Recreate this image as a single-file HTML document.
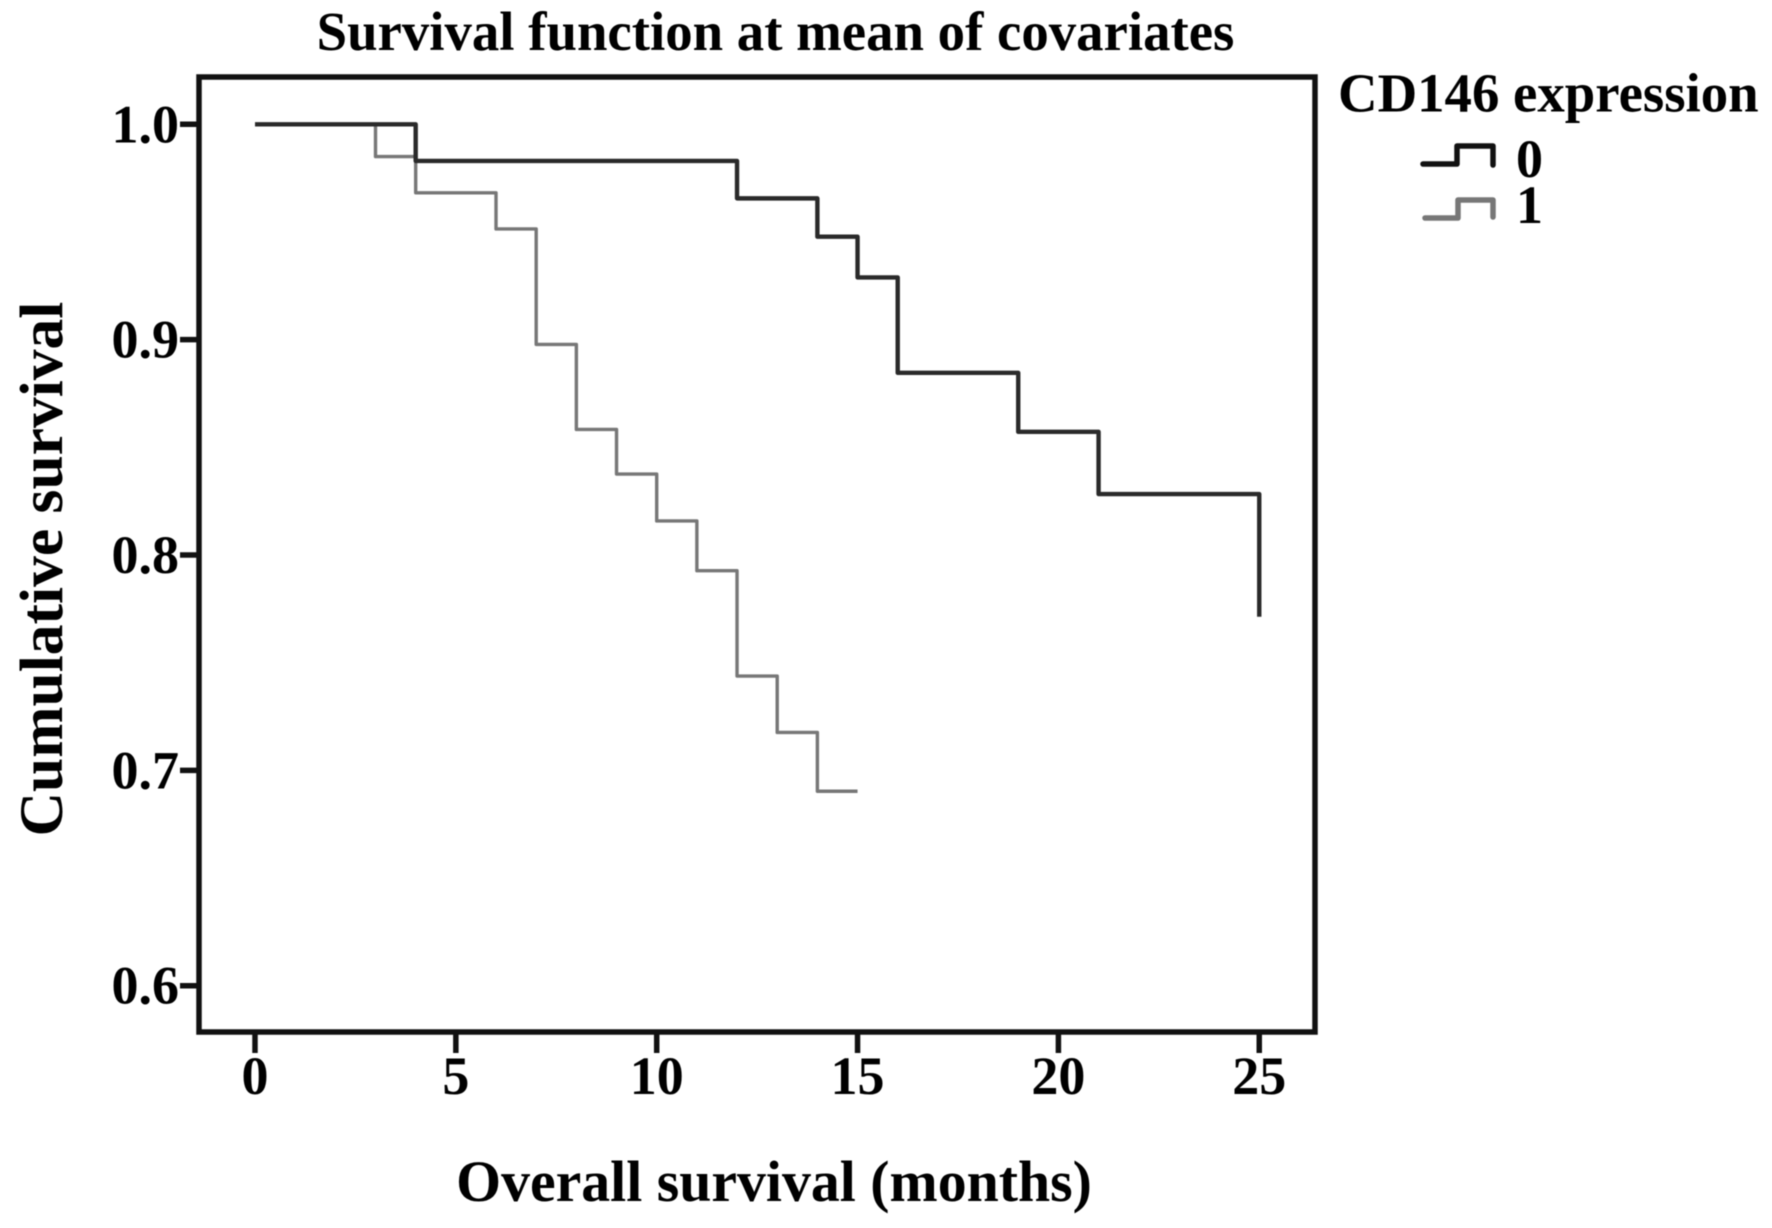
<!DOCTYPE html>
<html lang="en">
<head>
<meta charset="utf-8">
<title>Survival function at mean of covariates</title>
<style>
html,body{margin:0;padding:0;background:#fff;}
svg{display:block;filter:blur(0.5px);}
text{font-family:"Liberation Serif",serif;font-weight:bold;fill:#000;}
</style>
</head>
<body>
<svg id="chart" xmlns="http://www.w3.org/2000/svg" width="1772" height="1228" viewBox="0 0 1772 1228">
  <rect x="0" y="0" width="1772" height="1228" fill="#fff"/>
  <text x="775.5" y="50" font-size="54.8" text-anchor="middle">Survival function at mean of covariates</text>
  <rect x="199" y="77" width="1116" height="955" fill="none" stroke="#111" stroke-width="5.5"/>
  <g id="y-axis"></g>
  <g id="x-axis"></g>
  <g id="series"></g>
  <text transform="translate(62,569) rotate(-90)" font-size="61.5" text-anchor="middle">Cumulative survival</text>
  <text x="774" y="1201" font-size="57.8" text-anchor="middle">Overall survival (months)</text>
  <g>
    <text x="1338" y="111.5" font-size="54.8">CD146 expression</text>
    <polyline points="1423,164 1457,164 1457,146 1493,146 1493,165" fill="none" stroke="#111" stroke-width="5.5" stroke-linejoin="round" stroke-linecap="round"/>
    <text x="1516" y="177" font-size="54">0</text>
    <polyline points="1425,218 1458,218 1458,200 1493,200 1493,217" fill="none" stroke="#777" stroke-width="5.5" stroke-linejoin="round" stroke-linecap="round"/>
    <text x="1516" y="223" font-size="54">1</text>
  </g>
</svg>
<script>
const xTicks = [0, 5, 10, 15, 20, 25];
const yTicks = [1.0, 0.9, 0.8, 0.7, 0.6];
const series0Months = [0, 4, 12, 14, 15, 16, 19, 21, 25];
const series0Survival = [1.0, 0.983, 0.9656, 0.9478, 0.9289, 0.8846, 0.8572, 0.8283, 0.7713];
const series0End = 25;
const series1Months = [0, 3, 4, 6, 7, 8, 9, 10, 11, 12, 13, 14];
const series1Survival = [1.0, 0.985, 0.9682, 0.9514, 0.8978, 0.8583, 0.8376, 0.8158, 0.7927, 0.7438, 0.7176, 0.6903];
const series1End = 15;

const NS = 'http://www.w3.org/2000/svg';
function xScale(v) { return 255 + v * 40.17; }
function yScale(v) { return 124.3 + (1 - v) * 2153.5; }
function make(tag, attrs, parent) {
  const el = document.createElementNS(NS, tag);
  for (const k in attrs) el.setAttribute(k, attrs[k]);
  parent.appendChild(el);
  return el;
}
function stepPoints(xs, ys, end) {
  const pts = [];
  xs.forEach(function (x, i) {
    if (i > 0) pts.push(xScale(x) + ',' + yScale(ys[i - 1]));
    pts.push(xScale(x) + ',' + yScale(ys[i]));
  });
  if (end !== xs[xs.length - 1]) pts.push(xScale(end) + ',' + yScale(ys[ys.length - 1]));
  return pts.join(' ');
}

const yAxis = document.getElementById('y-axis');
yTicks.forEach(function (t) {
  const tick = make('line', {x1: 180, x2: 199, y1: yScale(t), y2: yScale(t), stroke: '#111', 'stroke-width': 5.5}, yAxis);
  
  
  const label = make('text', {x: 179, y: yScale(t) + 18, 'font-size': 54, 'text-anchor': 'end'}, yAxis);
  
  
  label.textContent = t.toFixed(1);
});

const xAxis = document.getElementById('x-axis');
xTicks.forEach(function (t) {
  const tick = make('line', {x1: xScale(t), x2: xScale(t), y1: 1032, y2: 1053, stroke: '#111', 'stroke-width': 5.5}, xAxis);
  
  
  const label = make('text', {x: xScale(t), y: 1094, 'font-size': 54, 'text-anchor': 'middle'}, xAxis);
  
  
  label.textContent = String(t);
});

const seriesGroup = document.getElementById('series');
const line1 = make('polyline', {points: stepPoints(series1Months, series1Survival, series1End), fill: 'none', stroke: '#777', 'stroke-width': 3.4, 'stroke-linejoin': 'round'}, seriesGroup);


const line0 = make('polyline', {points: stepPoints(series0Months, series0Survival, series0End), fill: 'none', stroke: '#2a2a2a', 'stroke-width': 4.4, 'stroke-linejoin': 'round'}, seriesGroup);


</script>
</body>
</html>
